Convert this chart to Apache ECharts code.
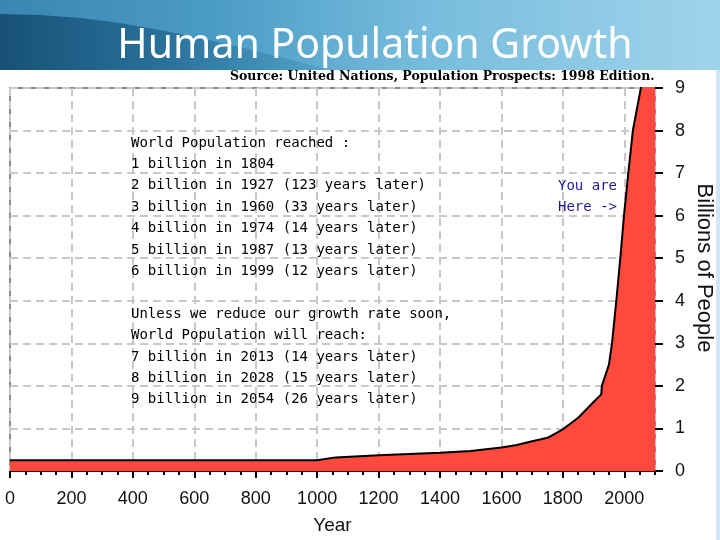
<!DOCTYPE html>
<html>
<head>
<meta charset="utf-8">
<script src="https://cdn.jsdelivr.net/npm/echarts@6/dist/echarts.min.js"></script>
<style>html,body{margin:0;padding:0;background:#fff;}#c{width:720px;height:540px;}</style>
</head>
<body>
<div id="c"></div>
<script>
// ---- data ----
const years = [0, 1000, 1060, 1200, 1300, 1400, 1500, 1600, 1650, 1700, 1750, 1800, 1850, 1900, 1925, 1927, 1950, 1960, 1974, 1987, 1999, 2013, 2028, 2054, 2100];
const population = [0.25, 0.25, 0.32, 0.37, 0.40, 0.43, 0.47, 0.55, 0.61, 0.70, 0.78, 0.98, 1.25, 1.62, 1.8, 2.0, 2.5, 3, 4, 5, 6, 7, 8, 9, 10.5];
const xTicks = [0, 200, 400, 600, 800, 1000, 1200, 1400, 1600, 1800, 2000];
const yTicks = [0, 1, 2, 3, 4, 5, 6, 7, 8, 9];
const titleText = 'Human Population Growth';
const sourceText = 'Source: United Nations, Population Prospects: 1998 Edition.';
const noteLines = [
  'World Population reached :',
  '1 billion in 1804',
  '2 billion in 1927 (123 years later)',
  '3 billion in 1960 (33 years later)',
  '4 billion in 1974 (14 years later)',
  '5 billion in 1987 (13 years later)',
  '6 billion in 1999 (12 years later)',
  '',
  'Unless we reduce our growth rate soon,',
  'World Population will reach:',
  '7 billion in 2013 (14 years later)',
  '8 billion in 2028 (15 years later)',
  '9 billion in 2054 (26 years later)'
];
const hereLines = ['You are', 'Here ->'];
const xName = 'Year';
const yName = 'Billions of People';

const chart = echarts.init(document.getElementById('c'), null, {renderer: 'canvas'});
const seriesData = years.map((y, i) => [y, population[i]]);
const dashed = {type: [8, 5], color: '#c8c8c8', width: 2};

chart.setOption({
  animation: false,
  backgroundColor: '#ffffff',
  grid: {left: 10, right: 65, top: 88, bottom: 67, show: true, borderColor: '#8c8c8c', borderWidth: 2, backgroundColor: 'transparent'},
  xAxis: [{
    type: 'value', min: xTicks[0], max: 2100, interval: 200,
    name: xName, nameLocation: 'middle', nameGap: 45,
    nameTextStyle: {fontFamily: 'Liberation Sans', fontSize: 19, color: '#111'},
    axisLine: {show: true, onZero: false, lineStyle: {color: '#000', width: 1}},
    axisTick: {show: true, length: 7, lineStyle: {color: '#000', width: 2}},
    axisLabel: {margin: 19, fontFamily: 'Liberation Sans', fontSize: 18, color: '#111', showMaxLabel: false,
      formatter: v => xTicks.indexOf(v) >= 0 ? String(v) : ''},
    splitLine: {show: true, lineStyle: dashed}
  }, {
    type: 'value', min: 0, max: 2100, interval: 50, position: 'bottom',
    axisLine: {show: false, onZero: false}, axisLabel: {show: false}, splitLine: {show: false},
    axisTick: {show: true, length: 4, lineStyle: {color: '#000', width: 2}}
  }],
  yAxis: {
    type: 'value', min: yTicks[0], max: yTicks[yTicks.length - 1], interval: 1, position: 'right',
    axisLine: {show: false, onZero: false},
    axisTick: {show: true, length: 8, lineStyle: {color: '#000', width: 2}},
    axisLabel: {margin: 20, fontFamily: 'Liberation Sans', fontSize: 18, color: '#111'},
    splitLine: {show: true, lineStyle: dashed}
  },
  series: [{
    type: 'line', xAxisIndex: 0, data: seriesData, showSymbol: false, clip: true,
    lineStyle: {color: '#000', width: 2},
    areaStyle: {color: '#ff4a3d', opacity: 1},
    z: 3
  }],
  graphic: [
    {type: 'rect', shape: {x: 0, y: 0, width: 720, height: 70}, z: 0, silent: true,
      style: {fill: new echarts.graphic.LinearGradient(0, 0, 1, 0, [
        {offset: 0, color: '#3a86b2'}, {offset: 0.3, color: '#4b9cc6'}, {offset: 0.6, color: '#78bddd'}, {offset: 1, color: '#a0d4eb'}])}},
    {type: 'polygon', shape: {points: [[0, 14], [40, 15], [80, 18], [120, 23], [160, 30], [200, 38], [240, 47], [280, 57], [330, 70], [0, 70]]}, z: 1, silent: true,
      style: {fill: new echarts.graphic.LinearGradient(0, 0, 1, 0, [
        {offset: 0, color: 'rgba(18,72,108,0.85)'}, {offset: 0.5, color: 'rgba(22,88,128,0.6)'}, {offset: 1, color: 'rgba(40,110,150,0.15)'}])}},
    {type: 'rect', shape: {x: 716, y: 70, width: 4, height: 470}, z: 1, silent: true, style: {fill: '#cfe8f4'}},
    {type: 'text', x: 375, y: 46, z: 5, silent: true,
      style: {text: titleText, fill: '#ffffff', fontFamily: 'Noto Sans', fontSize: 41, align: 'center', verticalAlign: 'middle'}},
    {type: 'text', x: 230, y: 77, z: 5, silent: true,
      style: {text: sourceText, fill: '#000', fontFamily: 'DejaVu Serif', fontWeight: 'bold', fontSize: 12.5, align: 'left', verticalAlign: 'middle'}},
    {type: 'text', x: 131, y: 132.3, z: 5, silent: true,
      style: {text: noteLines.join('\n'), fill: '#000', fontFamily: 'DejaVu Sans Mono', fontSize: 14, lineHeight: 21.4, align: 'left', verticalAlign: 'top'}},
    {type: 'text', x: 558, y: 175.3, z: 5, silent: true,
      style: {text: hereLines.join('\n'), fill: '#1a1a9a', fontFamily: 'DejaVu Sans Mono', fontSize: 14, lineHeight: 21.4, align: 'left', verticalAlign: 'top'}},
    {type: 'text', x: 704, y: 268, rotation: -Math.PI / 2, z: 5, silent: true,
      style: {text: yName, fill: '#111', fontFamily: 'Liberation Sans', fontSize: 22, align: 'center', verticalAlign: 'middle'}}
  ]
});
</script>
</body>
</html>
